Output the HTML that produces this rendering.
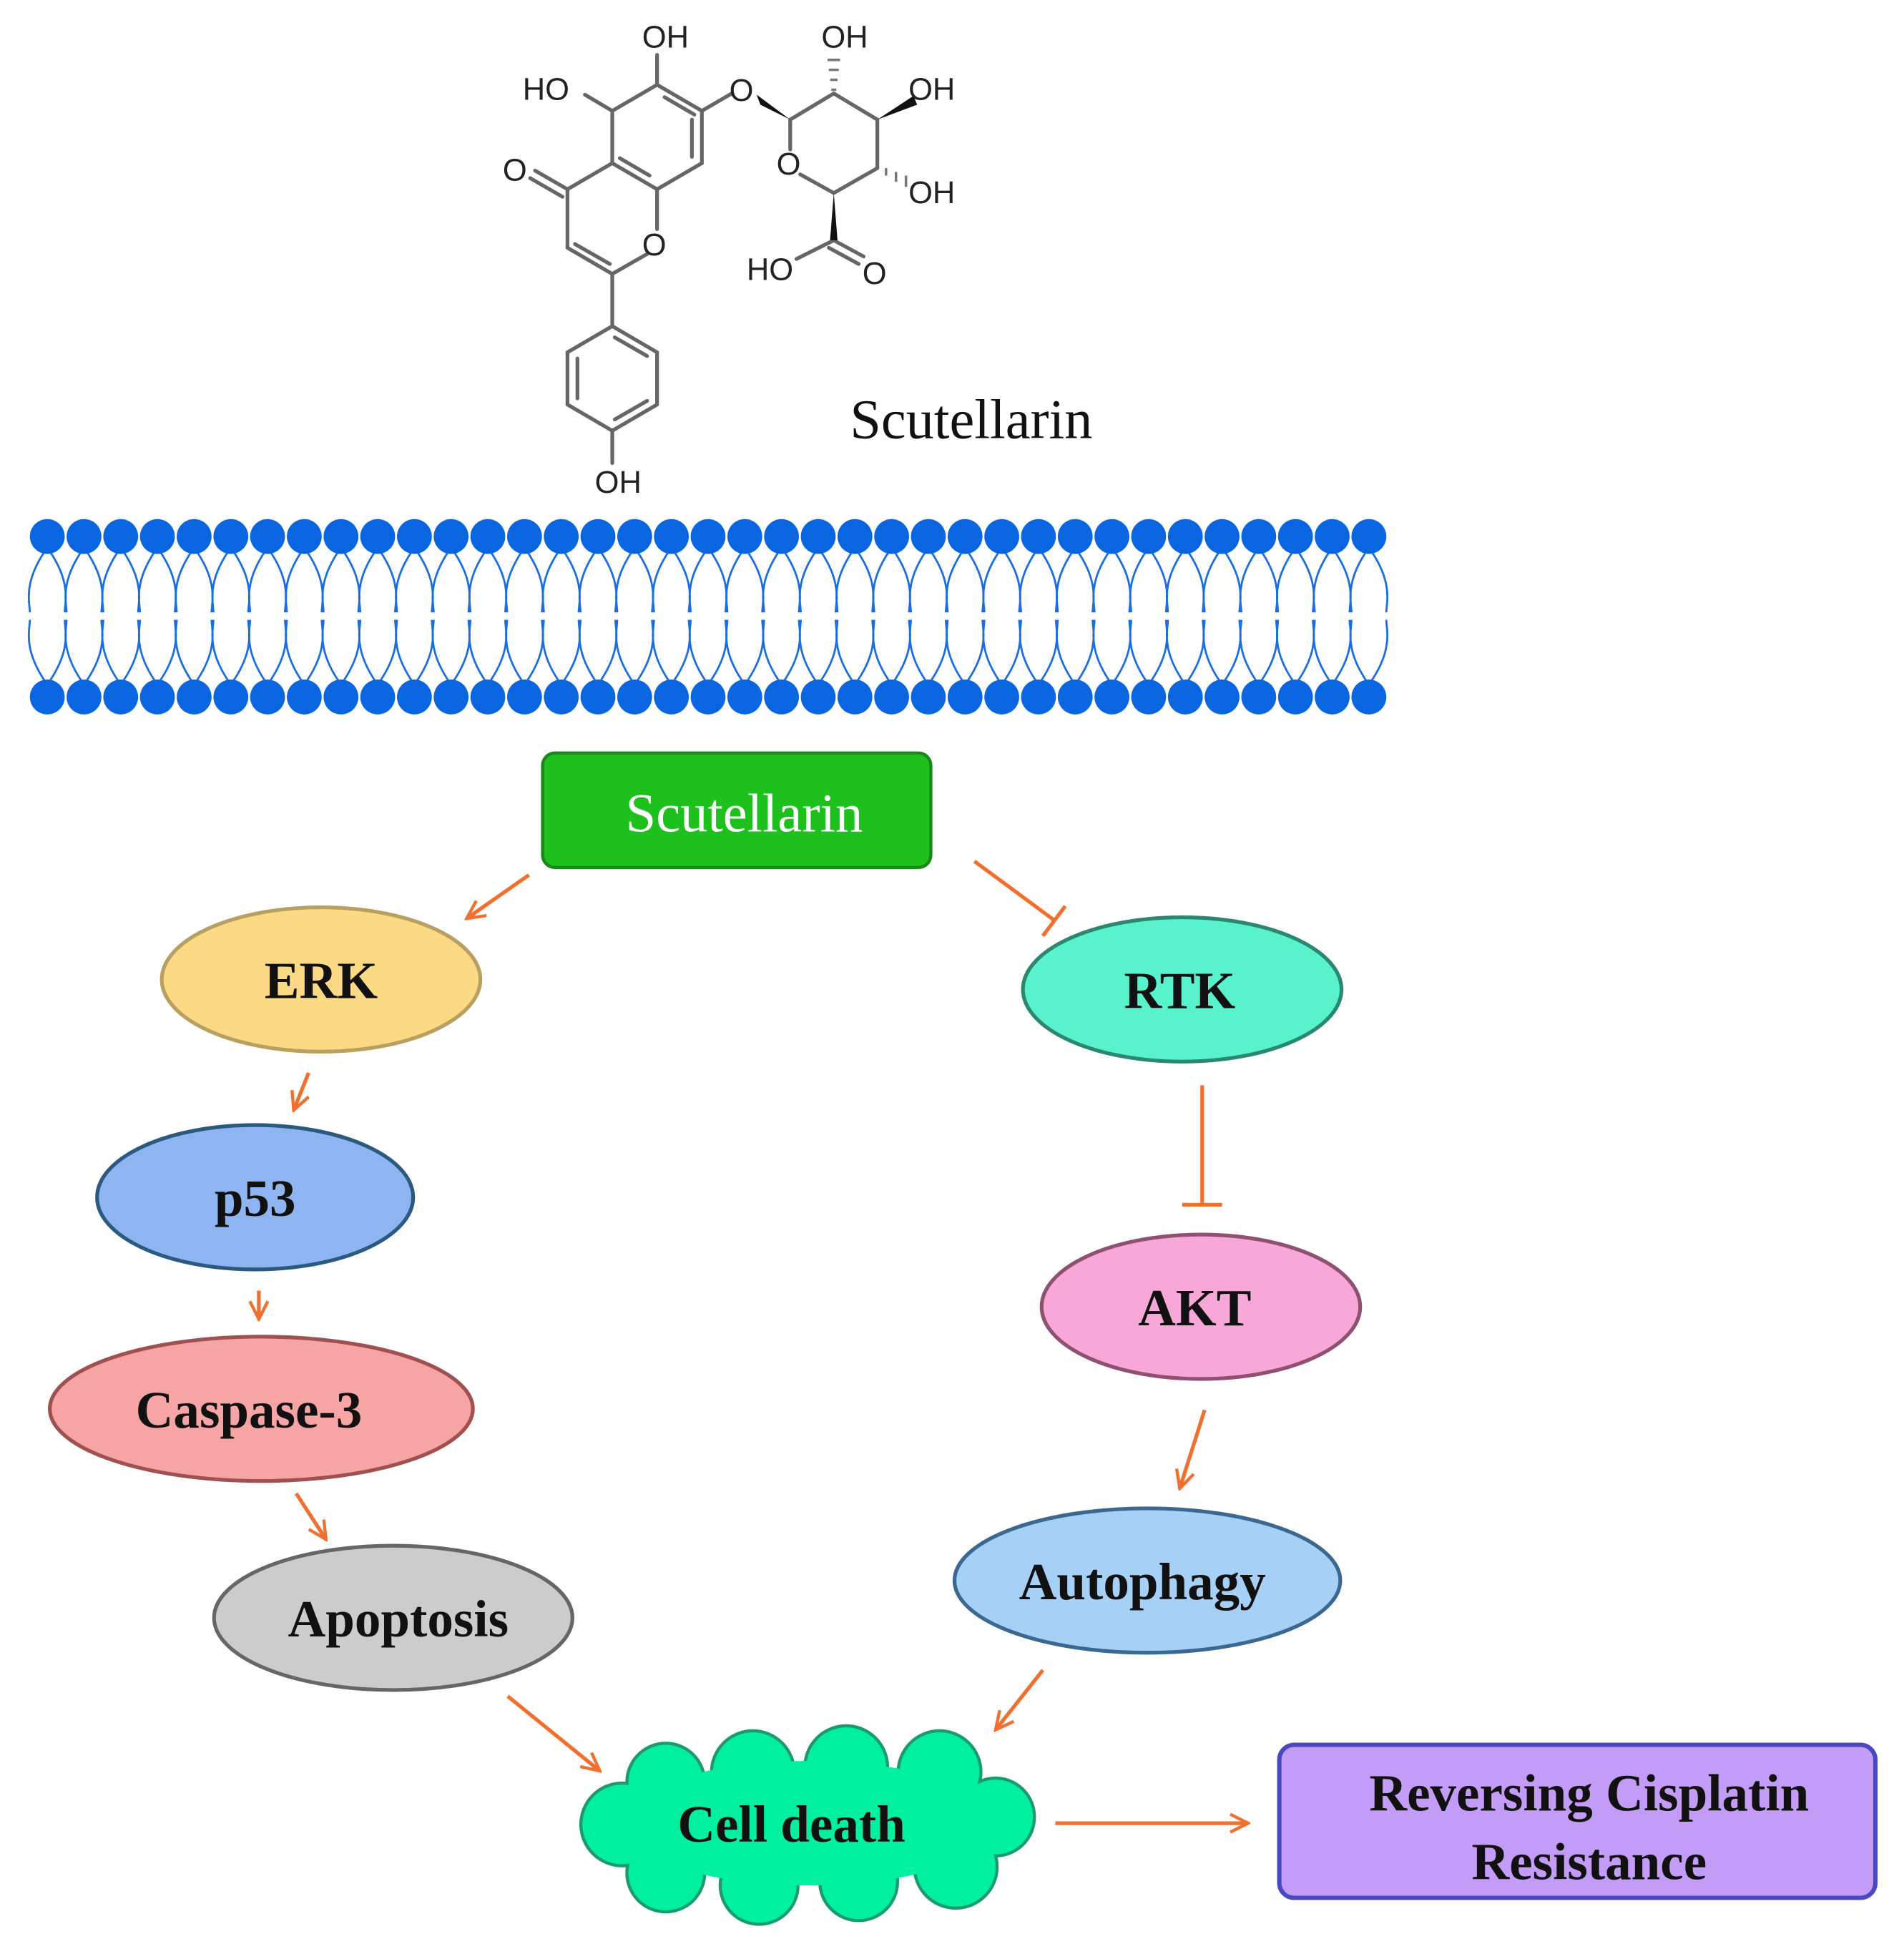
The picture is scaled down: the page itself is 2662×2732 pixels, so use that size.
<!DOCTYPE html>
<html><head><meta charset="utf-8"><style>html,body{margin:0;padding:0;background:#fff}svg{display:block}</style></head>
<body>
<svg width="2662" height="2732" viewBox="0 0 1530 1570" xmlns="http://www.w3.org/2000/svg">
<defs>
<marker id="ah" viewBox="0 0 10 10" refX="9" refY="5" markerWidth="18" markerHeight="18" orient="auto" markerUnits="userSpaceOnUse">
<path d="M1,1 L9,5 L1,9" fill="none" stroke="#f07030" stroke-width="1.4"/></marker>
</defs>
<rect width="1530" height="1570" fill="#fff"/>
<!-- chemical structure -->
<g stroke="#666" stroke-width="3" fill="none" stroke-linecap="round">
<polygon points="528,68 564,89 564,131 528,152 492,131 492,89"/>
<line x1="534" y1="78" x2="558" y2="92"/><line x1="556" y1="96" x2="556" y2="126"/><line x1="498" y1="127" x2="522" y2="141"/>
<line x1="528" y1="152" x2="528" y2="184"/><line x1="520" y1="204" x2="492" y2="220"/>
<line x1="492" y1="220" x2="456" y2="199"/><line x1="490" y1="212" x2="462" y2="196"/>
<line x1="456" y1="199" x2="456" y2="152"/><line x1="456" y1="152" x2="492" y2="131"/>
<line x1="456" y1="152" x2="430" y2="137"/><line x1="452" y1="158" x2="426" y2="143"/>
<line x1="492" y1="220" x2="492" y2="262"/>
<polygon points="492,262 528,283 528,325 492,346 456,325 456,283"/>
<line x1="494" y1="271" x2="520" y2="286"/><line x1="464" y1="288" x2="464" y2="320"/><line x1="494" y1="337" x2="520" y2="322"/>
<line x1="492" y1="346" x2="492" y2="372"/>
<line x1="528" y1="68" x2="528" y2="44"/>
<line x1="492" y1="89" x2="470" y2="76"/>
<line x1="564" y1="89" x2="588" y2="75"/>
<line x1="635" y1="96" x2="635" y2="120"/><line x1="643" y1="140" x2="670" y2="155"/>
<line x1="635" y1="96" x2="670" y2="75"/><line x1="670" y1="75" x2="705" y2="96"/>
<line x1="705" y1="96" x2="705" y2="135"/><line x1="705" y1="135" x2="670" y2="155"/>
<line x1="670" y1="193" x2="640" y2="208"/><line x1="670" y1="193" x2="694" y2="206"/><line x1="666" y1="199" x2="690" y2="212"/>
</g>
<g fill="#111">
<polygon points="608,76 635,96 611,84"/>
<polygon points="705,96 734,77 737,84"/>
<polygon points="670,155 667,193 673,193"/>
</g>
<g stroke="#777" stroke-width="2"><line x1="668" y1="72" x2="672" y2="72"/><line x1="667" y1="64" x2="673" y2="64"/><line x1="666" y1="56" x2="674" y2="56"/><line x1="665" y1="48" x2="675" y2="48"/>
<line x1="712" y1="135" x2="712" y2="141"/><line x1="720" y1="138" x2="720" y2="146"/><line x1="728" y1="141" x2="728" y2="150"/></g>
<g font-family="Liberation Sans, sans-serif" font-size="25" fill="#222">
<text x="516" y="38">OH</text><text x="420" y="80">HO</text><text x="586" y="81">O</text>
<text x="404" y="145">O</text><text x="516" y="205">O</text><text x="624" y="140">O</text>
<text x="660" y="38">OH</text><text x="730" y="80">OH</text><text x="730" y="163">OH</text>
<text x="600" y="225">HO</text><text x="693" y="228">O</text><text x="478" y="396">OH</text>
</g>
<text x="683" y="352" font-family="Liberation Serif, serif" font-size="45" fill="#111">Scutellarin</text>
<!-- membrane -->
<g stroke="#1a6ee0" stroke-width="1.6" fill="none">
<path d="M38,440 C18,468 24,484 24,492 M38,440 C58,468 52,484 52,492 M38,550 C18,522 24,506 24,498 M38,550 C58,522 52,506 52,498 M67.5,440 C47.5,468 53.5,484 53.5,492 M67.5,440 C87.5,468 81.5,484 81.5,492 M67.5,550 C47.5,522 53.5,506 53.5,498 M67.5,550 C87.5,522 81.5,506 81.5,498 M97,440 C77,468 83,484 83,492 M97,440 C117,468 111,484 111,492 M97,550 C77,522 83,506 83,498 M97,550 C117,522 111,506 111,498 M126.5,440 C106.5,468 112.5,484 112.5,492 M126.5,440 C146.5,468 140.5,484 140.5,492 M126.5,550 C106.5,522 112.5,506 112.5,498 M126.5,550 C146.5,522 140.5,506 140.5,498 M156,440 C136,468 142,484 142,492 M156,440 C176,468 170,484 170,492 M156,550 C136,522 142,506 142,498 M156,550 C176,522 170,506 170,498 M185.5,440 C165.5,468 171.5,484 171.5,492 M185.5,440 C205.5,468 199.5,484 199.5,492 M185.5,550 C165.5,522 171.5,506 171.5,498 M185.5,550 C205.5,522 199.5,506 199.5,498 M215,440 C195,468 201,484 201,492 M215,440 C235,468 229,484 229,492 M215,550 C195,522 201,506 201,498 M215,550 C235,522 229,506 229,498 M244.5,440 C224.5,468 230.5,484 230.5,492 M244.5,440 C264.5,468 258.5,484 258.5,492 M244.5,550 C224.5,522 230.5,506 230.5,498 M244.5,550 C264.5,522 258.5,506 258.5,498 M274,440 C254,468 260,484 260,492 M274,440 C294,468 288,484 288,492 M274,550 C254,522 260,506 260,498 M274,550 C294,522 288,506 288,498 M303.5,440 C283.5,468 289.5,484 289.5,492 M303.5,440 C323.5,468 317.5,484 317.5,492 M303.5,550 C283.5,522 289.5,506 289.5,498 M303.5,550 C323.5,522 317.5,506 317.5,498 M333,440 C313,468 319,484 319,492 M333,440 C353,468 347,484 347,492 M333,550 C313,522 319,506 319,498 M333,550 C353,522 347,506 347,498 M362.5,440 C342.5,468 348.5,484 348.5,492 M362.5,440 C382.5,468 376.5,484 376.5,492 M362.5,550 C342.5,522 348.5,506 348.5,498 M362.5,550 C382.5,522 376.5,506 376.5,498 M392,440 C372,468 378,484 378,492 M392,440 C412,468 406,484 406,492 M392,550 C372,522 378,506 378,498 M392,550 C412,522 406,506 406,498 M421.5,440 C401.5,468 407.5,484 407.5,492 M421.5,440 C441.5,468 435.5,484 435.5,492 M421.5,550 C401.5,522 407.5,506 407.5,498 M421.5,550 C441.5,522 435.5,506 435.5,498 M451,440 C431,468 437,484 437,492 M451,440 C471,468 465,484 465,492 M451,550 C431,522 437,506 437,498 M451,550 C471,522 465,506 465,498 M480.5,440 C460.5,468 466.5,484 466.5,492 M480.5,440 C500.5,468 494.5,484 494.5,492 M480.5,550 C460.5,522 466.5,506 466.5,498 M480.5,550 C500.5,522 494.5,506 494.5,498 M510,440 C490,468 496,484 496,492 M510,440 C530,468 524,484 524,492 M510,550 C490,522 496,506 496,498 M510,550 C530,522 524,506 524,498 M539.5,440 C519.5,468 525.5,484 525.5,492 M539.5,440 C559.5,468 553.5,484 553.5,492 M539.5,550 C519.5,522 525.5,506 525.5,498 M539.5,550 C559.5,522 553.5,506 553.5,498 M569,440 C549,468 555,484 555,492 M569,440 C589,468 583,484 583,492 M569,550 C549,522 555,506 555,498 M569,550 C589,522 583,506 583,498 M598.5,440 C578.5,468 584.5,484 584.5,492 M598.5,440 C618.5,468 612.5,484 612.5,492 M598.5,550 C578.5,522 584.5,506 584.5,498 M598.5,550 C618.5,522 612.5,506 612.5,498 M628,440 C608,468 614,484 614,492 M628,440 C648,468 642,484 642,492 M628,550 C608,522 614,506 614,498 M628,550 C648,522 642,506 642,498 M657.5,440 C637.5,468 643.5,484 643.5,492 M657.5,440 C677.5,468 671.5,484 671.5,492 M657.5,550 C637.5,522 643.5,506 643.5,498 M657.5,550 C677.5,522 671.5,506 671.5,498 M687,440 C667,468 673,484 673,492 M687,440 C707,468 701,484 701,492 M687,550 C667,522 673,506 673,498 M687,550 C707,522 701,506 701,498 M716.5,440 C696.5,468 702.5,484 702.5,492 M716.5,440 C736.5,468 730.5,484 730.5,492 M716.5,550 C696.5,522 702.5,506 702.5,498 M716.5,550 C736.5,522 730.5,506 730.5,498 M746,440 C726,468 732,484 732,492 M746,440 C766,468 760,484 760,492 M746,550 C726,522 732,506 732,498 M746,550 C766,522 760,506 760,498 M775.5,440 C755.5,468 761.5,484 761.5,492 M775.5,440 C795.5,468 789.5,484 789.5,492 M775.5,550 C755.5,522 761.5,506 761.5,498 M775.5,550 C795.5,522 789.5,506 789.5,498 M805,440 C785,468 791,484 791,492 M805,440 C825,468 819,484 819,492 M805,550 C785,522 791,506 791,498 M805,550 C825,522 819,506 819,498 M834.5,440 C814.5,468 820.5,484 820.5,492 M834.5,440 C854.5,468 848.5,484 848.5,492 M834.5,550 C814.5,522 820.5,506 820.5,498 M834.5,550 C854.5,522 848.5,506 848.5,498 M864,440 C844,468 850,484 850,492 M864,440 C884,468 878,484 878,492 M864,550 C844,522 850,506 850,498 M864,550 C884,522 878,506 878,498 M893.5,440 C873.5,468 879.5,484 879.5,492 M893.5,440 C913.5,468 907.5,484 907.5,492 M893.5,550 C873.5,522 879.5,506 879.5,498 M893.5,550 C913.5,522 907.5,506 907.5,498 M923,440 C903,468 909,484 909,492 M923,440 C943,468 937,484 937,492 M923,550 C903,522 909,506 909,498 M923,550 C943,522 937,506 937,498 M952.5,440 C932.5,468 938.5,484 938.5,492 M952.5,440 C972.5,468 966.5,484 966.5,492 M952.5,550 C932.5,522 938.5,506 938.5,498 M952.5,550 C972.5,522 966.5,506 966.5,498 M982,440 C962,468 968,484 968,492 M982,440 C1002,468 996,484 996,492 M982,550 C962,522 968,506 968,498 M982,550 C1002,522 996,506 996,498 M1011.5,440 C991.5,468 997.5,484 997.5,492 M1011.5,440 C1031.5,468 1025.5,484 1025.5,492 M1011.5,550 C991.5,522 997.5,506 997.5,498 M1011.5,550 C1031.5,522 1025.5,506 1025.5,498 M1041,440 C1021,468 1027,484 1027,492 M1041,440 C1061,468 1055,484 1055,492 M1041,550 C1021,522 1027,506 1027,498 M1041,550 C1061,522 1055,506 1055,498 M1070.5,440 C1050.5,468 1056.5,484 1056.5,492 M1070.5,440 C1090.5,468 1084.5,484 1084.5,492 M1070.5,550 C1050.5,522 1056.5,506 1056.5,498 M1070.5,550 C1090.5,522 1084.5,506 1084.5,498 M1100,440 C1080,468 1086,484 1086,492 M1100,440 C1120,468 1114,484 1114,492 M1100,550 C1080,522 1086,506 1086,498 M1100,550 C1120,522 1114,506 1114,498"/>
</g>
<g fill="#0a66e0">
<circle cx="38" cy="431" r="14"/><circle cx="67.5" cy="431" r="14"/><circle cx="97" cy="431" r="14"/><circle cx="126.5" cy="431" r="14"/><circle cx="156" cy="431" r="14"/><circle cx="185.5" cy="431" r="14"/><circle cx="215" cy="431" r="14"/><circle cx="244.5" cy="431" r="14"/><circle cx="274" cy="431" r="14"/><circle cx="303.5" cy="431" r="14"/><circle cx="333" cy="431" r="14"/><circle cx="362.5" cy="431" r="14"/><circle cx="392" cy="431" r="14"/><circle cx="421.5" cy="431" r="14"/><circle cx="451" cy="431" r="14"/><circle cx="480.5" cy="431" r="14"/><circle cx="510" cy="431" r="14"/><circle cx="539.5" cy="431" r="14"/><circle cx="569" cy="431" r="14"/><circle cx="598.5" cy="431" r="14"/><circle cx="628" cy="431" r="14"/><circle cx="657.5" cy="431" r="14"/><circle cx="687" cy="431" r="14"/><circle cx="716.5" cy="431" r="14"/><circle cx="746" cy="431" r="14"/><circle cx="775.5" cy="431" r="14"/><circle cx="805" cy="431" r="14"/><circle cx="834.5" cy="431" r="14"/><circle cx="864" cy="431" r="14"/><circle cx="893.5" cy="431" r="14"/><circle cx="923" cy="431" r="14"/><circle cx="952.5" cy="431" r="14"/><circle cx="982" cy="431" r="14"/><circle cx="1011.5" cy="431" r="14"/><circle cx="1041" cy="431" r="14"/><circle cx="1070.5" cy="431" r="14"/><circle cx="1100" cy="431" r="14"/>
<circle cx="38" cy="560" r="14"/><circle cx="67.5" cy="560" r="14"/><circle cx="97" cy="560" r="14"/><circle cx="126.5" cy="560" r="14"/><circle cx="156" cy="560" r="14"/><circle cx="185.5" cy="560" r="14"/><circle cx="215" cy="560" r="14"/><circle cx="244.5" cy="560" r="14"/><circle cx="274" cy="560" r="14"/><circle cx="303.5" cy="560" r="14"/><circle cx="333" cy="560" r="14"/><circle cx="362.5" cy="560" r="14"/><circle cx="392" cy="560" r="14"/><circle cx="421.5" cy="560" r="14"/><circle cx="451" cy="560" r="14"/><circle cx="480.5" cy="560" r="14"/><circle cx="510" cy="560" r="14"/><circle cx="539.5" cy="560" r="14"/><circle cx="569" cy="560" r="14"/><circle cx="598.5" cy="560" r="14"/><circle cx="628" cy="560" r="14"/><circle cx="657.5" cy="560" r="14"/><circle cx="687" cy="560" r="14"/><circle cx="716.5" cy="560" r="14"/><circle cx="746" cy="560" r="14"/><circle cx="775.5" cy="560" r="14"/><circle cx="805" cy="560" r="14"/><circle cx="834.5" cy="560" r="14"/><circle cx="864" cy="560" r="14"/><circle cx="893.5" cy="560" r="14"/><circle cx="923" cy="560" r="14"/><circle cx="952.5" cy="560" r="14"/><circle cx="982" cy="560" r="14"/><circle cx="1011.5" cy="560" r="14"/><circle cx="1041" cy="560" r="14"/><circle cx="1070.5" cy="560" r="14"/><circle cx="1100" cy="560" r="14"/>
</g>
<!-- nodes -->
<g font-family="Liberation Serif, serif" font-weight="bold" font-size="42" text-anchor="middle" fill="#111">
<rect x="436" y="605" width="312" height="92" rx="10" fill="#1ec01e" stroke="#188818" stroke-width="2.5"/>
<text x="598" y="668" fill="#fff" font-weight="normal" font-size="44">Scutellarin</text>
<ellipse cx="258" cy="787" rx="128" ry="58" fill="#fcd984" stroke="#b8a060" stroke-width="3"/><text x="258" y="802">ERK</text>
<ellipse cx="205" cy="962" rx="127" ry="58" fill="#8fb4f2" stroke="#2a5a80" stroke-width="3"/><text x="205" y="977">p53</text>
<ellipse cx="210" cy="1132" rx="170" ry="58" fill="#f6a4a4" stroke="#a05050" stroke-width="3"/><text x="200" y="1147">Caspase-3</text>
<ellipse cx="316" cy="1300" rx="144" ry="58" fill="#cccccc" stroke="#666" stroke-width="3"/><text x="320" y="1315">Apoptosis</text>
<ellipse cx="950" cy="795" rx="128" ry="58" fill="#58f2cc" stroke="#2a8870" stroke-width="3"/><text x="948" y="810">RTK</text>
<ellipse cx="965" cy="1050" rx="128" ry="58" fill="#f8a8d8" stroke="#905070" stroke-width="3"/><text x="960" y="1065">AKT</text>
<ellipse cx="922" cy="1270" rx="155" ry="58" fill="#a6d0f6" stroke="#3a6890" stroke-width="3"/><text x="918" y="1285">Autophagy</text>
<g stroke="#1a9a70" stroke-width="5">
<circle cx="535" cy="1432" r="30"/><circle cx="605" cy="1424" r="32"/><circle cx="680" cy="1420" r="32"/><circle cx="755" cy="1424" r="32"/>
<circle cx="500" cy="1466" r="32"/><circle cx="800" cy="1460" r="30"/><circle cx="535" cy="1505" r="30"/><circle cx="610" cy="1515" r="30"/><circle cx="690" cy="1512" r="30"/><circle cx="768" cy="1500" r="32"/>
</g>
<g fill="#00f0a0">
<circle cx="535" cy="1432" r="30"/><circle cx="605" cy="1424" r="32"/><circle cx="680" cy="1420" r="32"/><circle cx="755" cy="1424" r="32"/>
<circle cx="500" cy="1466" r="32"/><circle cx="800" cy="1460" r="30"/><circle cx="535" cy="1505" r="30"/><circle cx="610" cy="1515" r="30"/><circle cx="690" cy="1512" r="30"/><circle cx="768" cy="1500" r="32"/>
<ellipse cx="650" cy="1465" rx="150" ry="50"/>
</g>
<text x="636" y="1480">Cell death</text>
<rect x="1028" y="1402" width="479" height="123" rx="12" fill="#c39cf8" stroke="#4a48c0" stroke-width="3.5"/>
<text x="1277" y="1455">Reversing Cisplatin</text><text x="1277" y="1510">Resistance</text>
</g>
<!-- arrows -->
<g stroke="#f07030" stroke-width="3" fill="none">
<line x1="425" y1="703" x2="375" y2="738" marker-end="url(#ah)"/>
<line x1="783" y1="692" x2="848" y2="740"/><line x1="838" y1="752" x2="856" y2="728"/>
<line x1="248" y1="862" x2="236" y2="892" marker-end="url(#ah)"/>
<line x1="208" y1="1037" x2="208" y2="1060" marker-end="url(#ah)"/>
<line x1="238" y1="1200" x2="262" y2="1237" marker-end="url(#ah)"/>
<line x1="408" y1="1363" x2="482" y2="1423" marker-end="url(#ah)"/>
<line x1="966" y1="872" x2="966" y2="968"/><line x1="950" y1="968" x2="982" y2="968"/>
<line x1="968" y1="1133" x2="948" y2="1196" marker-end="url(#ah)"/>
<line x1="838" y1="1342" x2="800" y2="1390" marker-end="url(#ah)"/>
<line x1="848" y1="1465" x2="1003" y2="1465" marker-end="url(#ah)"/>
</g>
</svg>
</body></html>
